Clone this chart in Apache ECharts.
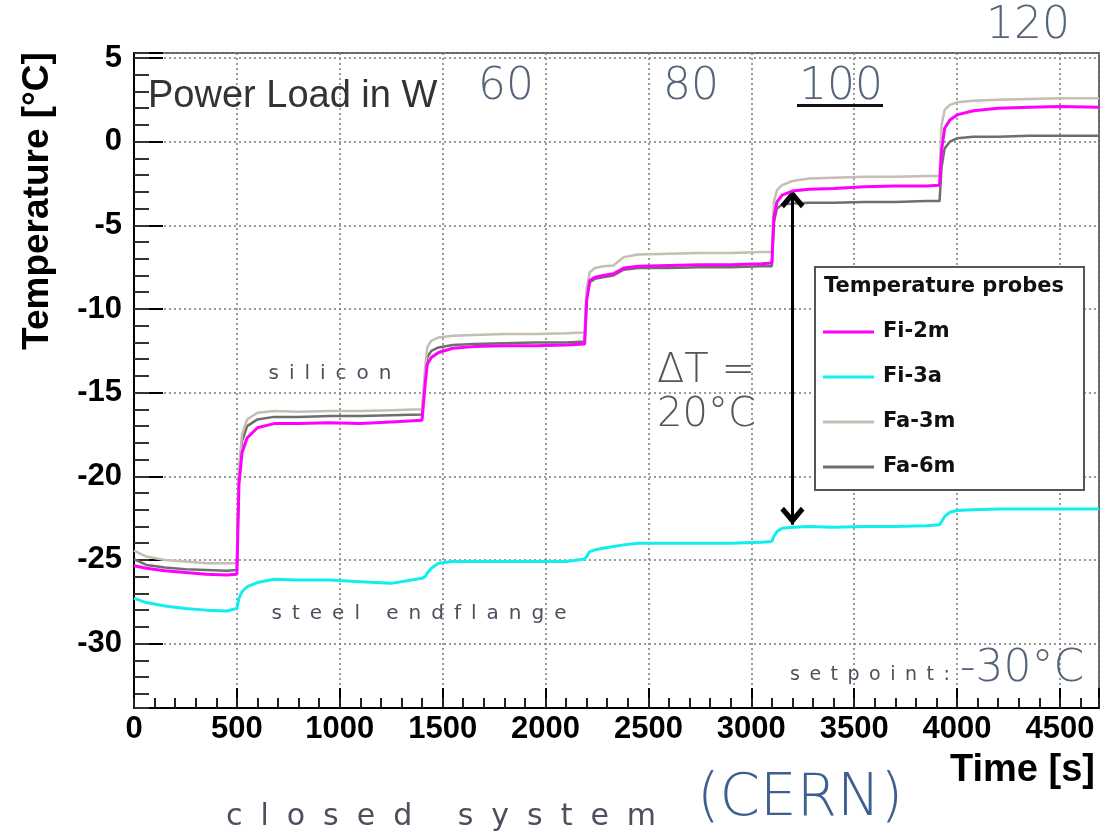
<!DOCTYPE html>
<html>
<head>
<meta charset="utf-8">
<title>Temperature probes – closed system (CERN)</title>
<script src="https://cdn.jsdelivr.net/npm/echarts@6/dist/echarts.min.js"></script>
<style>
  html, body { margin: 0; padding: 0; background: #ffffff; }
  #chart { width: 1112px; height: 835px; }
</style>
</head>
<body>
<div id="chart"></div>
<script>
// Sample times in seconds (shared by all probes)
const timeS = [
  0, 60, 150, 250, 350, 450, 500,
  510, 525, 550, 600, 680, 800, 950, 1100, 1250, 1400,
  1415, 1425, 1445, 1480, 1550, 1650, 1800, 1950, 2100, 2190,
  2200, 2215, 2240, 2280, 2330, 2380, 2450, 2600, 2750, 2900, 3050, 3100,
  3110, 3125, 3150, 3200, 3280, 3400, 3550, 3700, 3850, 3915,
  3925, 3940, 3965, 4000, 4080, 4200, 4350, 4500, 4690
];

// Probe temperatures in °C
const fi2m = [
  -25.35, -25.5, -25.65, -25.75, -25.85, -25.9, -25.85,
  -20.5, -18.6, -17.7, -17.1, -16.85, -16.85, -16.8, -16.85, -16.75, -16.65,
  -14.5, -13.3, -12.9, -12.6, -12.35, -12.25, -12.2, -12.2, -12.15, -12.1,
  -9.5, -8.3, -8.1, -8.0, -7.9, -7.55, -7.45, -7.4, -7.35, -7.35, -7.3, -7.25,
  -4.5, -3.6, -3.2, -2.95, -2.85, -2.8, -2.7, -2.65, -2.65, -2.6,
  -0.5, 0.8, 1.3, 1.6, 1.85, 2.0, 2.05, 2.1, 2.05
];
const fi3a = [
  -27.3, -27.55, -27.75, -27.9, -28.0, -28.05, -27.9,
  -27.3, -26.9, -26.6, -26.35, -26.15, -26.2, -26.2, -26.3, -26.4, -26.1,
  -26.0, -25.8, -25.5, -25.2, -25.1, -25.1, -25.1, -25.1, -25.1, -24.95,
  -24.8, -24.5, -24.4, -24.3, -24.2, -24.1, -24.0, -24.0, -24.0, -24.0, -23.95, -23.9,
  -23.6, -23.3, -23.1, -23.05, -23.0, -23.05, -23.0, -23.0, -22.95, -22.9,
  -22.7, -22.4, -22.15, -22.05, -22.0, -21.95, -21.95, -21.95, -21.95
];
const fa3m = [
  -24.45, -24.8, -25.0, -25.1, -25.2, -25.2, -25.2,
  -19.5, -17.5, -16.6, -16.2, -16.1, -16.15, -16.1, -16.1, -16.05, -16.0,
  -13.5, -12.3, -11.9, -11.7, -11.6, -11.55, -11.5, -11.5, -11.45, -11.4,
  -8.8, -7.8, -7.55, -7.45, -7.4, -6.9, -6.75, -6.7, -6.65, -6.65, -6.6, -6.6,
  -3.6, -2.9, -2.6, -2.35, -2.2, -2.15, -2.1, -2.1, -2.05, -2.05,
  1.0, 1.9, 2.2, 2.35, 2.45, 2.5, 2.55, 2.6, 2.6
];
const fa6m = [
  -24.95, -25.3, -25.45, -25.55, -25.6, -25.65, -25.6,
  -19.8, -17.9, -17.0, -16.6, -16.45, -16.45, -16.4, -16.4, -16.35, -16.3,
  -14.0, -12.9, -12.5, -12.3, -12.15, -12.1, -12.05, -12.0, -12.0, -11.95,
  -9.4, -8.4, -8.2, -8.1, -8.0, -7.65, -7.55, -7.55, -7.5, -7.5, -7.45, -7.45,
  -4.8, -4.0, -3.75, -3.7, -3.65, -3.65, -3.6, -3.6, -3.55, -3.55,
  -1.5, -0.4, 0.0, 0.2, 0.3, 0.3, 0.35, 0.35, 0.35
];

const probeNames = ['Fi-2m', 'Fi-3a', 'Fa-3m', 'Fa-6m'];
const powerLoads = ['60', '80', '100', '120'];

// Temperature difference marked between silicon and end flange
const deltaT = 20;
const arrowTime = 3200;
const arrowTop = -2.9;

// Axis ranges
const timeRange = [0, 4690];
const tempRange = [-33.85, 5.3];

const pairs = vals => timeS.map((t, i) => [t, vals[i]]);

// letter-spaced caption text: gap between letters, word gap = gap + space + gap
const spaced = (s, gap) => s.split(' ').map(w => w.split('').join(gap)).join(gap + ' ' + gap);

const chart = echarts.init(document.getElementById('chart'), null, { renderer: 'canvas' });

const labelFont = { fontFamily: 'Liberation Sans', fontWeight: 'bold', fontSize: 31, color: '#000' };
const thinFont = '"DejaVu Sans"';
const annColor = '#56647a';
const smallColor = '#4c4f5c';

const arrowPath = 'path://M12,0 L24,14 L20.5,17.5 L12,8 L3.5,17.5 L0,14 Z';

function lineSeries(name, vals, color, width, z) {
  return {
    name, type: 'line', data: pairs(vals), xAxisIndex: 0, yAxisIndex: 0,
    showSymbol: false, symbol: 'none', z,
    itemStyle: { color },
    lineStyle: { color, width },
    emphasis: { disabled: true }
  };
}

const series = [
  lineSeries('Fa-6m', fa6m, '#6e6e6e', 2.5, 2),
  lineSeries('Fa-3m', fa3m, '#c6bdb3', 2.5, 3),
  lineSeries('Fi-3a', fi3a, '#10eeee', 3, 4),
  lineSeries('Fi-2m', fi2m, '#ff00ff', 3, 5)
];
// double-headed arrow spanning deltaT; heads shifted so their tips sit on the end values
series[3].markLine = {
  silent: true,
  symbol: [arrowPath, arrowPath],
  symbolSize: [24, 18],
  symbolOffset: [[0, 9], [0, 9]],
  label: { show: false },
  lineStyle: { color: '#000', width: 3, type: 'solid' },
  emphasis: { disabled: true },
  data: [[{ coord: [arrowTime, arrowTop] }, { coord: [arrowTime, arrowTop - deltaT] }]]
};

const option = {
  animation: false,
  backgroundColor: '#ffffff',
  grid: {
    left: 134, right: 13, top: 53, bottom: 127,
    show: true, borderColor: '#666', borderWidth: 2, backgroundColor: 'transparent',
    outerBoundsMode: 'none'
  },
  xAxis: [
    {
      type: 'value', min: timeRange[0], max: timeRange[1], splitNumber: 9, position: 'bottom',
      axisLine: { show: true, onZero: false, lineStyle: { color: '#000', width: 2 } },
      axisTick: { show: true, inside: true, length: 20, lineStyle: { color: '#000', width: 2 } },
      axisLabel: Object.assign({ margin: 6, formatter: v => (v % 500 === 0 ? String(v) : '') }, labelFont),
      splitLine: { show: true, lineStyle: { color: '#7a7a7a', type: [2, 3], width: 1.5 } }
    },
    {
      type: 'value', min: timeRange[0], max: timeRange[1], splitNumber: 47, position: 'bottom', offset: 0,
      axisLine: { show: false, onZero: false },
      axisTick: { show: true, inside: true, length: 10, lineStyle: { color: '#222', width: 2 } },
      axisLabel: { show: false },
      splitLine: { show: false }
    }
  ],
  yAxis: [
    {
      type: 'value', min: tempRange[0], max: tempRange[1], splitNumber: 8, position: 'left',
      axisLine: { show: true, onZero: false, lineStyle: { color: '#000', width: 2 } },
      axisTick: { show: true, inside: true, length: 29, lineStyle: { color: '#000', width: 2 } },
      axisLabel: Object.assign({ margin: 12, formatter: v => (Math.abs(v % 5) < 1e-6 ? String(v) : '') }, labelFont),
      splitLine: { show: true, lineStyle: { color: '#7a7a7a', type: [2, 3], width: 1.5 } }
    },
    {
      type: 'value', min: tempRange[0], max: tempRange[1], splitNumber: 39, position: 'left', offset: 0,
      axisLine: { show: false, onZero: false },
      axisTick: { show: true, inside: true, length: 15, lineStyle: { color: '#333', width: 2 } },
      axisLabel: { show: false },
      splitLine: { show: false }
    }
  ],
  legend: {
    orient: 'vertical', left: 823, top: 320, padding: 0,
    itemWidth: 51, itemHeight: 3, itemGap: 21, icon: 'rect', z: 60,
    selectedMode: false,
    data: probeNames,
    textStyle: { fontFamily: 'DejaVu Sans', fontWeight: 'bold', fontSize: 21, color: '#111', lineHeight: 24, padding: [0, 0, 0, 4] }
  },
  graphic: [
    // legend frame and heading
    { type: 'rect', z: 50, shape: { x: 815, y: 267, width: 269, height: 223 },
      style: { fill: '#ffffff', stroke: '#555', lineWidth: 2 } },
    { type: 'text', z: 60, x: 824, y: 287,
      style: { text: 'Temperature probes', fontFamily: 'DejaVu Sans', fontWeight: 'bold', fontSize: 21, fill: '#111', align: 'left', verticalAlign: 'middle' } },

    // axis titles
    { type: 'text', z: 60, x: 38, y: 201, rotation: Math.PI / 2,
      style: { text: 'Temperature [°C]', fontFamily: 'Liberation Sans', fontWeight: 'bold', fontSize: 37, fill: '#000', align: 'center', verticalAlign: 'middle' } },
    { type: 'text', z: 60, x: 1095, y: 771,
      style: { text: 'Time [s]', fontFamily: 'Liberation Sans', fontWeight: 'bold', fontSize: 38, fill: '#000', align: 'right', verticalAlign: 'middle' } },

    // power load annotations
    { type: 'text', z: 60, x: 148, y: 97,
      style: { text: 'Power Load in W', fontFamily: 'Liberation Sans', fontSize: 38, fill: '#333', align: 'left', verticalAlign: 'middle' } },
    { type: 'text', z: 60, x: 506, y: 88,
      style: { text: powerLoads[0], fontFamily: thinFont, fontWeight: 200, fontSize: 44, fill: annColor, align: 'center', verticalAlign: 'middle' } },
    { type: 'text', z: 60, x: 691, y: 88,
      style: { text: powerLoads[1], fontFamily: thinFont, fontWeight: 200, fontSize: 44, fill: annColor, align: 'center', verticalAlign: 'middle' } },
    { type: 'text', z: 60, x: 841, y: 88,
      style: { text: powerLoads[2], fontFamily: thinFont, fontWeight: 200, fontSize: 44, fill: annColor, align: 'center', verticalAlign: 'middle' } },
    { type: 'rect', z: 60, shape: { x: 797, y: 104, width: 86, height: 3 }, style: { fill: '#111' } },
    { type: 'text', z: 60, x: 1028, y: 27,
      style: { text: powerLoads[3], fontFamily: thinFont, fontWeight: 200, fontSize: 44, fill: annColor, align: 'center', verticalAlign: 'middle' } },

    // region labels
    { type: 'text', z: 60, x: 330, y: 374,
      style: { text: spaced('silicon', '\u2002'), fontFamily: thinFont, fontSize: 20, fill: smallColor, align: 'center', verticalAlign: 'middle' } },
    { type: 'text', z: 60, x: 419, y: 614,
      style: { text: spaced('steel endflange', '\u2002'), fontFamily: thinFont, fontSize: 20, fill: smallColor, align: 'center', verticalAlign: 'middle' } },
    { type: 'text', z: 60, x: 790, y: 675,
      style: { text: spaced('setpoint:', '\u2002'), fontFamily: thinFont, fontSize: 19, fill: smallColor, align: 'left', verticalAlign: 'middle' } },
    { type: 'text', z: 60, x: 1022, y: 670,
      style: { text: '-30°C', fontFamily: thinFont, fontWeight: 200, fontSize: 44, fill: annColor, align: 'center', verticalAlign: 'middle' } },

    // temperature difference label
    { type: 'text', z: 60, x: 657, y: 372,
      style: { text: 'ΔT =', fontFamily: thinFont, fontWeight: 200, fontSize: 40, fill: '#555', align: 'left', verticalAlign: 'middle' } },
    { type: 'text', z: 60, x: 657, y: 416,
      style: { text: deltaT + '°C', fontFamily: thinFont, fontWeight: 200, fontSize: 40, fill: '#555', align: 'left', verticalAlign: 'middle' } },

    // caption
    { type: 'text', z: 60, x: 441, y: 817,
      style: { text: spaced('closed system', '\u2002\u200A'), fontFamily: thinFont, fontSize: 30, fill: smallColor, align: 'center', verticalAlign: 'middle' } },
    { type: 'text', z: 60, x: 800, y: 800,
      style: { text: '(CERN)', fontFamily: thinFont, fontWeight: 200, fontSize: 58, fill: '#3f5f8f', align: 'center', verticalAlign: 'middle' } }
  ],
  series
};

chart.setOption(option);
</script>
</body>
</html>
